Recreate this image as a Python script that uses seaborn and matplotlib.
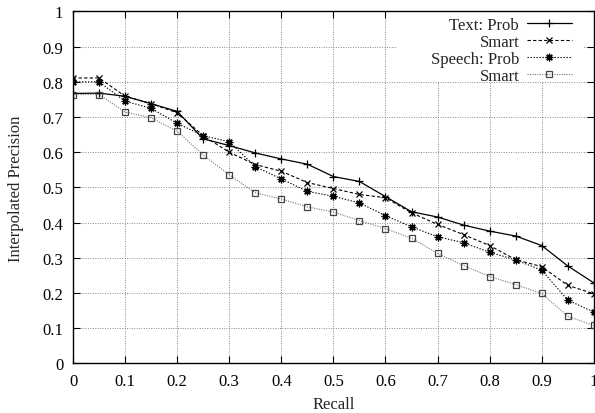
import matplotlib
matplotlib.use("Agg")
import matplotlib.pyplot as plt
from matplotlib.patches import Rectangle
import numpy as np
import pandas as pd
import seaborn as sns

# recall levels 0, 0.05, ... 1
recall = [0.0, 0.05, 0.1, 0.15, 0.2, 0.25, 0.3, 0.35, 0.4, 0.45, 0.5,
          0.55, 0.6, 0.65, 0.7, 0.75, 0.8, 0.85, 0.9, 0.95, 1.0]

text_prob = [0.767, 0.768, 0.759, 0.738, 0.716, 0.638, 0.619, 0.598, 0.581, 0.566, 0.531,
             0.517, 0.474, 0.431, 0.416, 0.393, 0.376, 0.362, 0.335, 0.277, 0.229]
text_smart = [0.811, 0.811, 0.759, 0.738, 0.712, 0.647, 0.600, 0.565, 0.546, 0.514, 0.497,
              0.480, 0.471, 0.428, 0.395, 0.366, 0.335, 0.295, 0.275, 0.222, 0.198]
speech_prob = [0.800, 0.800, 0.745, 0.725, 0.682, 0.647, 0.630, 0.559, 0.524, 0.489, 0.475,
               0.456, 0.420, 0.388, 0.360, 0.343, 0.316, 0.294, 0.265, 0.180, 0.146]
speech_smart = [0.764, 0.764, 0.714, 0.698, 0.660, 0.592, 0.536, 0.485, 0.467, 0.445, 0.430,
                0.406, 0.383, 0.356, 0.3125, 0.278, 0.247, 0.224, 0.199, 0.134, 0.108]

labels = ["Text: Prob", "Smart", "Speech: Prob", "Smart"]
tick_labels = ["0", "0.1", "0.2", "0.3", "0.4", "0.5", "0.6", "0.7", "0.8", "0.9", "1"]

sns.set_style("ticks")
plt.rcParams["font.family"] = ["Liberation Serif", "DejaVu Serif"]
plt.rcParams["font.size"] = 12

fig = plt.figure(figsize=(5.95, 4.14), dpi=100)
ax = fig.add_axes([0.1227, 0.1196, 0.8753, 0.8504])

# gnuplot-like line types
styles = [
    dict(color="black", linestyle="-", marker="+", markersize=6, lw=0.9,
         markeredgecolor="black"),
    dict(color="black", linestyle=(0, (3, 2)), marker="x", markersize=4.5, lw=0.8,
         markeredgecolor="black"),
    dict(color="black", linestyle=(0, (1.2, 1.5)), marker=(8, 2, 0), markersize=5.5, lw=0.8,
         markeredgecolor="black"),
    dict(color="#777777", linestyle=(0, (1, 1.2)), marker="s", markersize=4.5,
         markerfacecolor="none", markeredgecolor="#444444", lw=0.8),
]

series = [text_prob, text_smart, speech_prob, speech_smart]
df = pd.DataFrame({"recall": recall})
for i, (vals, st) in enumerate(zip(series, styles)):
    df["y"] = vals
    sns.lineplot(data=df, x="recall", y="y", ax=ax, label=labels[i],
                 markeredgewidth=0.9, **st)

ax.set_xlim(0, 1)
ax.set_ylim(0, 1)
ax.set_xticks(np.arange(0, 1.01, 0.1))
ax.set_yticks(np.arange(0, 1.01, 0.1))
ax.set_xticklabels(tick_labels)
ax.set_yticklabels(tick_labels)
ax.tick_params(direction="in", top=True, right=True, length=5, width=0.8,
               labelsize=12, pad=7, colors="black")
ax.grid(True, linestyle=(0, (1, 1.5)), color="#888888", lw=0.7)
for sp in ax.spines.values():
    sp.set_visible(True)
    sp.set_color("black")
    sp.set_linewidth(1.0)

ax.set_xlabel("Recall", fontsize=12, labelpad=5)
ax.set_ylabel("Interpolated Precision", fontsize=12, labelpad=13)

# white key box that hides the grid, like gnuplot
ax.add_patch(Rectangle((0.622, 0.799), 0.359, 0.199, transform=ax.transAxes,
                       facecolor="white", edgecolor="none", zorder=1.5))

handles, labs = ax.get_legend_handles_labels()
leg = ax.legend(handles, labs, loc="upper right", bbox_to_anchor=(0.9735, 1.0085),
                markerfirst=False, frameon=False, handlelength=2.7,
                handletextpad=0.45, labelspacing=0.06, borderpad=0.4,
                fontsize=12, borderaxespad=0.1)
leg.set_zorder(5)

fig.savefig("out.png", dpi=100)
